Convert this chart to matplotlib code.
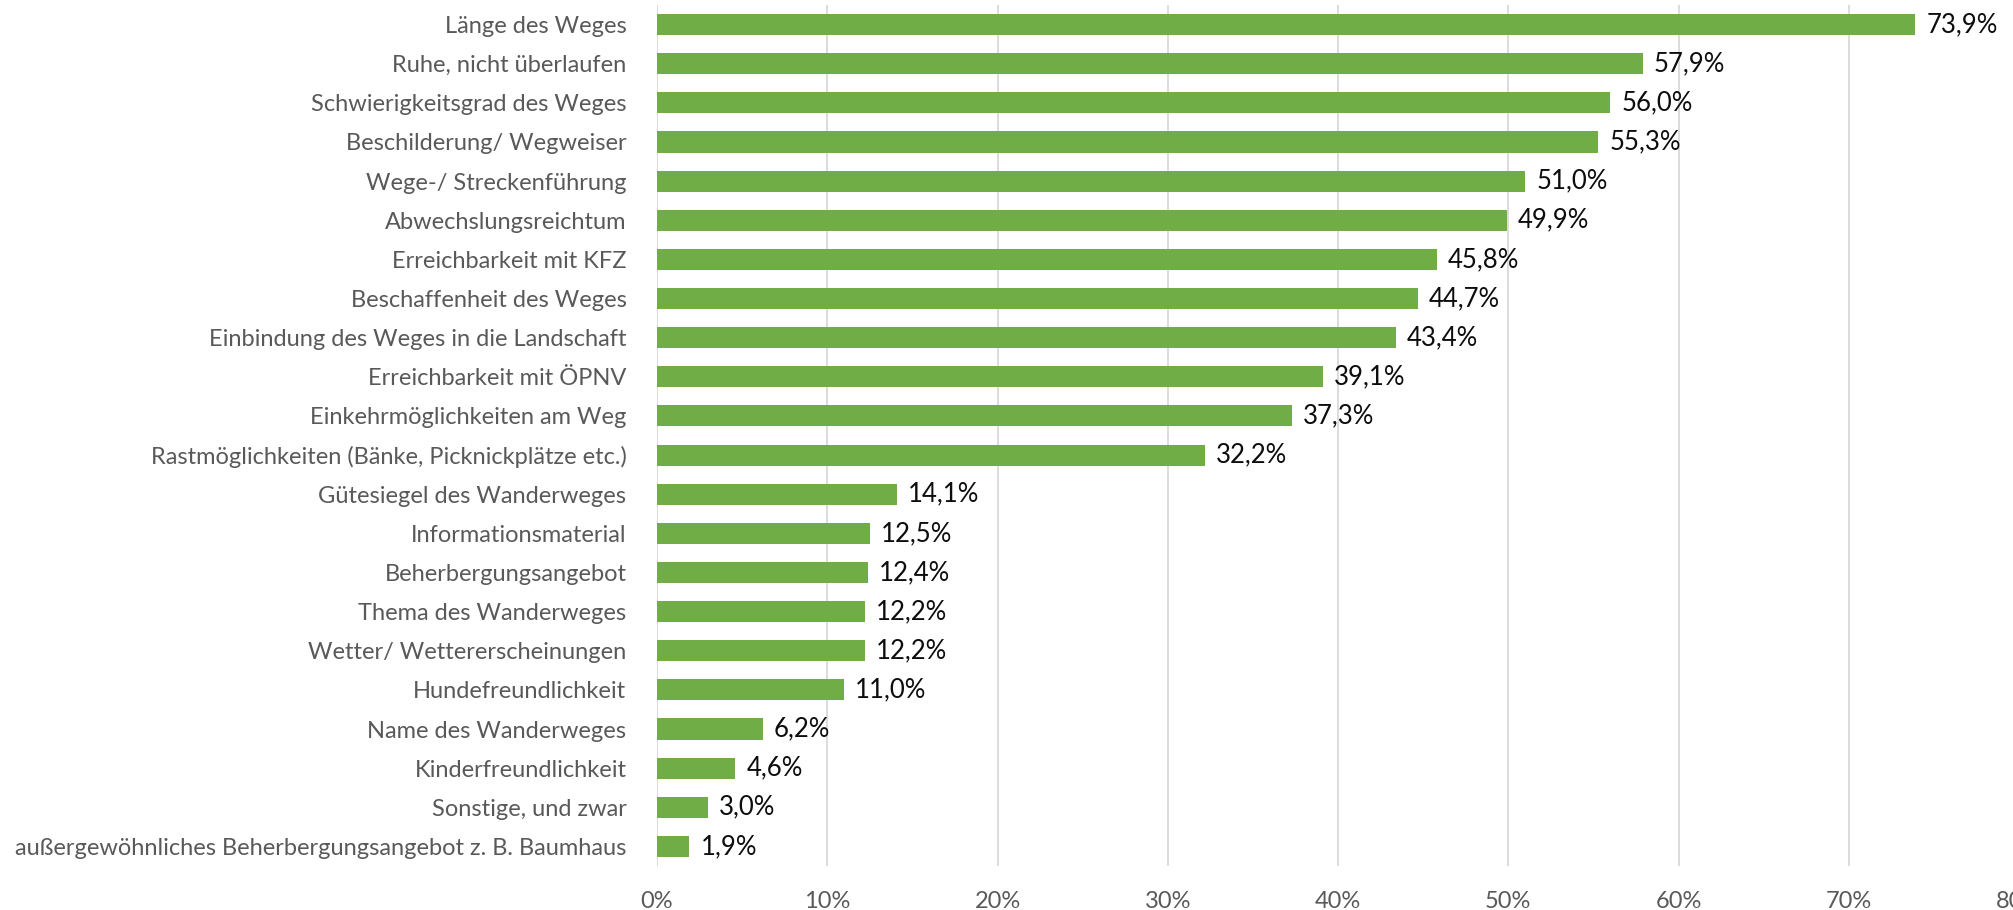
import matplotlib
matplotlib.use("Agg")
import matplotlib.pyplot as plt
from matplotlib.ticker import FuncFormatter

categories = [
    "Länge des Weges",
    "Ruhe, nicht überlaufen",
    "Schwierigkeitsgrad des Weges",
    "Beschilderung/ Wegweiser",
    "Wege-/ Streckenführung",
    "Abwechslungsreichtum",
    "Erreichbarkeit mit KFZ",
    "Beschaffenheit des Weges",
    "Einbindung des Weges in die Landschaft",
    "Erreichbarkeit mit ÖPNV",
    "Einkehrmöglichkeiten am Weg",
    "Rastmöglichkeiten (Bänke, Picknickplätze etc.)",
    "Gütesiegel des Wanderweges",
    "Informationsmaterial",
    "Beherbergungsangebot",
    "Thema des Wanderweges",
    "Wetter/ Wettererscheinungen",
    "Hundefreundlichkeit",
    "Name des Wanderweges",
    "Kinderfreundlichkeit",
    "Sonstige, und zwar",
    "außergewöhnliches Beherbergungsangebot z. B. Baumhaus",
]
values = [73.9, 57.9, 56.0, 55.3, 51.0, 49.9, 45.8, 44.7, 43.4, 39.1, 37.3, 32.2,
          14.1, 12.5, 12.4, 12.2, 12.2, 11.0, 6.2, 4.6, 3.0, 1.9]
xticks = [0, 10, 20, 30, 40, 50, 60, 70, 80]

FONT = ["Lato", "DejaVu Sans"]
plt.rcParams["font.family"] = FONT

fig = plt.figure(figsize=(20.13, 9.10), dpi=100)
ax = fig.add_axes([657/2013, 44/910, (2019-657)/2013, (905-44)/910])

ypos = list(range(len(categories)))
ax.barh(ypos, values, height=0.54, color="#70AD47", zorder=3)
ax.set_ylim(len(categories) - 0.5, -0.5)
ax.set_xlim(0, 80)
ax.set_yticks(ypos)
ax.set_yticklabels(categories, fontsize=17, color="#595959")
ax.set_xticks(xticks)
ax.xaxis.set_major_formatter(FuncFormatter(lambda v, p: f"{int(v)}%"))
ax.tick_params(axis="x", labelsize=17, labelcolor="#595959", length=0, pad=18)
ax.tick_params(axis="y", length=0, pad=22)
ax.grid(axis="x", color="#D9D9D9", linewidth=1.3, zorder=0)
for s in ax.spines.values():
    s.set_visible(False)

for y, v in zip(ypos, values):
    ax.text(v + 0.65, y, f"{v:.1f}%".replace(".", ","), va="center", ha="left",
            fontsize=18.5, color="#0d0d0d")

fig.savefig("out.png", dpi=100)
